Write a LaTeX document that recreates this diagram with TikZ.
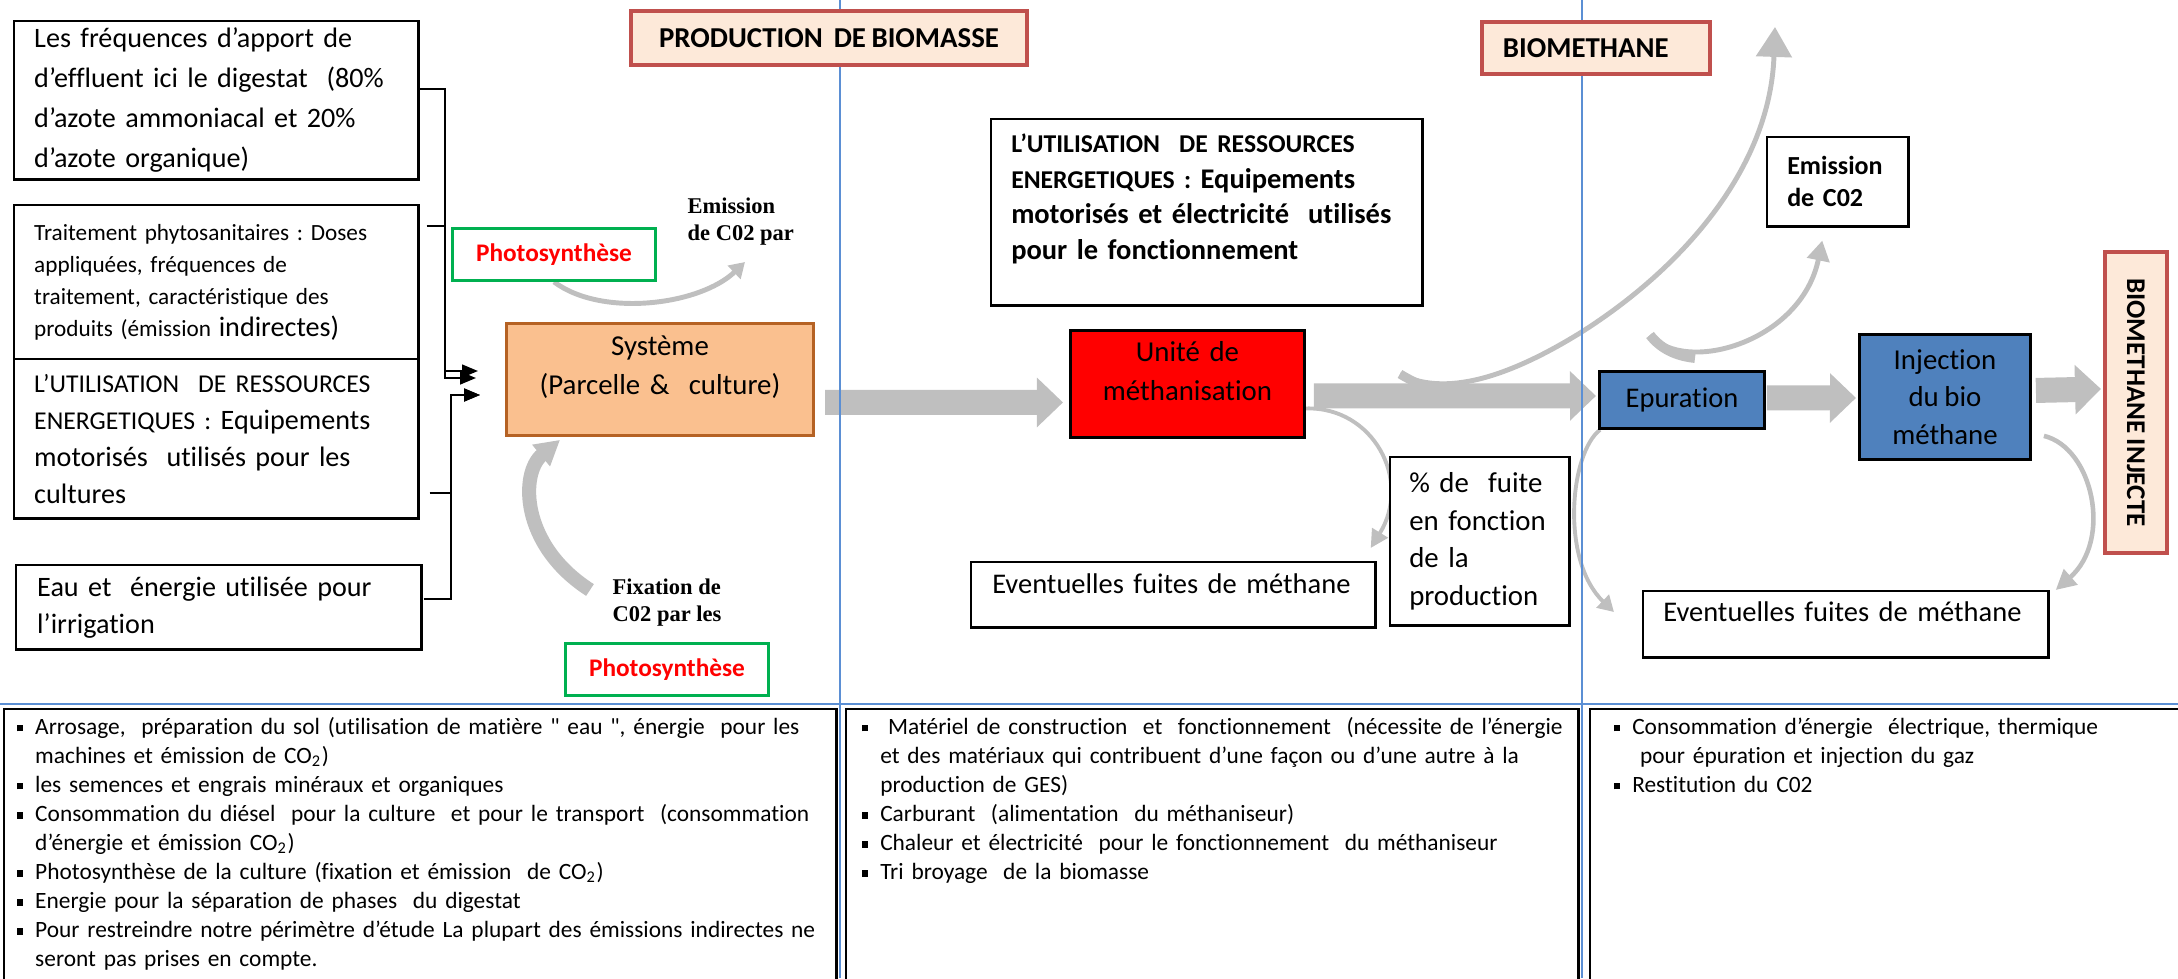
\documentclass[tikz,border=0pt]{standalone}
\usepackage{fontspec}
\setmainfont{Carlito}[Ligatures=NoCommon, WordSpace=0.85]
\newfontfamily\notefont{Liberation Serif}
\usetikzlibrary{arrows.meta,backgrounds}

\definecolor{sysfill}{RGB}{250,192,143}
\definecolor{sysline}{RGB}{181,98,36}
\definecolor{unitred}{RGB}{255,0,0}
\definecolor{procblue}{RGB}{79,129,189}
\definecolor{titlefill}{RGB}{253,233,217}
\definecolor{titleline}{RGB}{192,80,77}
\definecolor{photogreen}{RGB}{0,176,80}
\definecolor{photored}{RGB}{255,0,0}
\definecolor{gridblue}{RGB}{91,143,212}
\definecolor{arrowgray}{RGB}{191,191,191}

\hyphenpenalty=10000
\exhyphenpenalty=10000
\frenchspacing

% square bullet, indent of the next lines, smaller capitals
\newcommand{\sqb}{\makebox[0.18cm][l]{\rule[0.25ex]{0.55ex}{0.55ex}}}
\newcommand{\cont}{\hspace*{0.18cm}}
\newcommand{\caps}[1]{{\fontsize{7.3}{10}\selectfont #1}}

\tikzset{
  box/.style={draw, line width=0.7pt, anchor=north west, inner sep=0pt, fill=white},
  banner/.style={box, draw=titleline, fill=titlefill, line width=1.1pt,
    font=\fontsize{8.2}{10}\selectfont\bfseries},
  proc/.style={box, line width=0.8pt, fill=procblue, align=center},
  photo/.style={box, draw=photogreen, line width=0.8pt, text=photored,
    minimum width=2.03cm, minimum height=0.52cm,
    font=\fontsize{7.2}{9}\selectfont\bfseries},
  note/.style={anchor=north west, inner sep=0pt, align=left,
    font=\notefont\fontsize{6.4}{7.8}\selectfont\bfseries},
  itembox/.style={box, align=left, font=\fontsize{6.65}{8.25}\selectfont,
    text height=0.25cm, text depth=2.52cm},
  grid/.style={gridblue, line width=0.55pt},
  feed/.style={line width=0.6pt, -{Triangle[length=4.5pt,width=3.6pt]}},
  flow/.style={draw=arrowgray, line width=0.25cm,
    -{Triangle[length=0.26cm,width=0.48cm]}},
  swoop/.style n args={3}{draw=arrowgray, line width=#1,
    -{Triangle[length=#2,width=#3]}}
}

\begin{document}
\begin{tikzpicture}[x=0.01cm, y=-0.01cm, font=\fontsize{8.1}{10.7}\selectfont]

  \useasboundingbox (0,0) rectangle (2178,978);
  \clip (0,0) rectangle (2178,978);

  %% Inputs of the crop

  % Digestat
  \node[box, minimum width=4.04cm, minimum height=1.58cm, text width=3.64cm,
    align=left, font=\fontsize{8}{11.4}\selectfont] (freq) at (13,20)
    {Les fréquences d’apport de\\d’effluent ici le digestat~ (80\%\\d’azote ammoniacal et 20\%\\d’azote organique)};

  % Phytosanitary treatments
  \node[box, minimum width=4.04cm, minimum height=1.54cm, text width=3.64cm,
    align=left, font=\fontsize{6.6}{9.1}\selectfont] (phyto) at (13,204)
    {Traitement phytosanitaires : Doses\\appliquées, fréquences de\\traitement, caractéristique des\\produits (émission {\fontsize{8}{9.1}\selectfont indirectes)}};

  % Energy for the crop
  \node[box, minimum width=4.04cm, minimum height=1.59cm, text width=3.64cm,
    align=left, font=\fontsize{8}{10.5}\selectfont] (util1) at (13,358)
    {\caps{L’UTILISATION~ DE RESSOURCES}\\\caps{ENERGETIQUES :} Equipements\\motorisés~ utilisés pour les\\cultures};

  % Irrigation
  \node[box, minimum width=4.05cm, minimum height=0.84cm, text width=3.63cm,
    align=left, font=\fontsize{8}{10.5}\selectfont] (eau) at (15,564)
    {Eau et~ énergie utilisée pour\\l’irrigation};

  % Feed lines into the system
  \coordinate (busA) at (445,371);
  \coordinate (inA) at (478,371);
  \coordinate (busA2) at (445,378);
  \coordinate (inA2) at (476,378);
  \coordinate (busB) at (451,395);
  \coordinate (inB) at (480,395);
  \draw[feed] ([yshift=0.11cm]freq.east) -| (busA) -- (inA);
  \draw[feed] ([shift={(0.07cm,0.56cm)}]phyto.east) -| (busA2) -- (inA2);
  \draw[feed] ([shift={(0.1cm,-0.545cm)}]util1.east) -| (busB) -- (inB);
  \draw[feed] ([shift={(0.01cm,0.08cm)}]eau.east) -| (busB) -- (inB);

  %% Titles
  \node[banner, minimum width=3.96cm, minimum height=0.54cm] (prod) at (629,9)
    {PRODUCTION~ DE BIOMASSE};
  \node[banner, minimum width=2.28cm, minimum height=0.52cm, text width=1.86cm,
    align=left] (biom) at (1480,20) {BIOMETHANE};
  \node[banner, anchor=center, rotate=-90, minimum width=3.01cm,
    minimum height=0.62cm, font=\fontsize{7.7}{9}\selectfont\bfseries] (bminj)
    at (2136,402.5) {BIOMETHANE INJECTE};

  %% Crop system
  \node[box, draw=sysline, fill=sysfill, line width=0.8pt, minimum width=3.07cm,
    text width=3.07cm, align=center, text height=0.32cm, text depth=0.80cm,
    font=\fontsize{8.2}{11.1}\selectfont] (sys) at (505,322)
    {Système\\(Parcelle \&~ culture)};

  % Photosynthesis
  \node[photo] (ph1) at (451,227) {Photosynthèse};
  \node[photo] (ph2) at (564,642) {Photosynthèse};
  \node[note] (emi1) at (687,197) {Emission\\de C02 par};
  \node[note] (fix) at (612,578) {Fixation de\\C02 par les};

  %% Methanisation
  \node[box, minimum width=4.31cm, text width=3.91cm, align=left,
    text height=0.33cm, text depth=1.53cm,
    font=\fontsize{8.1}{10.2}\selectfont\bfseries] (util2) at (990,118)
    {\caps{L’UTILISATION~ DE RESSOURCES}\\\caps{ENERGETIQUES :} Equipements\\motorisés et électricité~ utilisés\\pour le fonctionnement};

  \node[box, fill=unitred, line width=0.8pt, minimum width=2.34cm,
    text width=2.34cm, align=center, text height=0.31cm, text depth=0.76cm,
    font=\fontsize{8.2}{11.1}\selectfont] (unit) at (1069,329)
    {Unité de\\méthanisation};

  \node[box, minimum width=4.04cm, text width=3.62cm, align=left,
    text height=0.31cm, text depth=0.34cm] (fuite1) at (970,561)
    {Eventuelles fuites de méthane};

  \node[box, minimum width=1.79cm, minimum height=1.68cm, text width=1.41cm,
    align=left, font=\fontsize{8.2}{10.7}\selectfont] (pct) at (1389,456)
    {\% de~ fuite\\en fonction\\de la\\production};

  %% Biomethane
  \node[proc, minimum width=1.65cm, minimum height=0.57cm] (epu) at (1598,370)
    {Epuration};
  \node[proc, minimum width=1.71cm, minimum height=1.25cm,
    font=\fontsize{8.2}{10.7}\selectfont] (inj) at (1858,333)
    {Injection\\du bio\\méthane};
  \node[box, minimum width=1.41cm, minimum height=0.89cm, text width=1.01cm,
    align=left, font=\fontsize{7.4}{9.1}\selectfont\bfseries] (emi2)
    at (1766,136) {Emission\\de C02};
  \node[box, minimum width=4.05cm, text width=3.65cm, align=left,
    text height=0.30cm, text depth=0.36cm] (fuite2) at (1642,590)
    {Eventuelles fuites de méthane};

  %% Lists under the diagram
  \node[itembox, minimum width=8.32cm, text width=8.06cm] (botL) at (3,708)
    {\sqb Arrosage,~ préparation du sol (utilisation de matière \textquotedbl{} eau \textquotedbl, énergie~ pour les\\
     \cont machines et émission de CO\textsubscript{2})\\
     \sqb les semences et engrais minéraux et organiques\\
     \sqb Consommation du diésel~ pour la culture~ et pour le transport~ (consommation\\
     \cont d’énergie et émission CO\textsubscript{2})\\
     \sqb Photosynthèse de la culture (fixation et émission~ de CO\textsubscript{2})\\
     \sqb Energie pour la séparation de phases~ du digestat\\
     \sqb Pour restreindre notre périmètre d’étude La plupart des émissions indirectes ne\\
     \cont seront pas prises en compte.};
  \node[itembox, minimum width=7.32cm, text width=7.0cm] (botM) at (845,708)
    {\sqb\ Matériel de construction~ et~ fonctionnement~ (nécessite de l’énergie\\
     \cont et des matériaux qui contribuent d’une façon ou d’une autre à la\\
     \cont production de GES)\\
     \sqb Carburant~ (alimentation~ du méthaniseur)\\
     \sqb Chaleur et électricité~ pour le fonctionnement~ du méthaniseur\\
     \sqb Tri broyage~ de la biomasse};
  \node[itembox, minimum width=6.0cm, text width=5.52cm] (botR) at (1589,708)
    {\sqb Consommation d’énergie~ électrique, thermique\\
     \cont\ pour épuration et injection du gaz\\
     \sqb Restitution du C02};

  %% Gray arrows and table lines, behind the boxes
  \coordinate (co2up) at (745,262);
  \coordinate (hook1) at (1400,374);
  \coordinate (up1) at (1775,27);
  \coordinate (hook2) at (1650,335);

  \begin{pgfonlayer}{background}
    % Main flow
    \draw[flow] ([shift={(0.1cm,-0.23cm)}]sys.east) -- ([shift={(-0.06cm,-0.185cm)}]unit.west);
    \draw[flow] ([shift={(0.08cm,-0.12cm)}]unit.east) -- ([shift={(-0.02cm,0.04cm)}]epu.west);
    \draw[flow] ([shift={(0.01cm,0.02cm)}]epu.east) -- ([shift={(-0.02cm,-0.01cm)}]inj.west);
    \draw[flow] ([shift={(0.04cm,0.065cm)}]inj.east) -- ([shift={(-0.02cm,0.135cm)}]bminj.south);

    % CO2 of the crop
    \draw[swoop={1.4pt}{4.3pt}{5.1pt}] (ph1.south) .. controls +(48,36) and +(-45,43) .. (co2up);
    \draw[swoop={4pt}{7pt}{7.5pt}] ([shift={(-0.22cm,-0.12cm)}]fix.north west)
      .. controls +(-70,-45) and +(-40,33) .. ([shift={(0.55cm,-0.03cm)}]sys.south west);

    % Leaks and emissions
    \draw[swoop={1.4pt}{8.5pt}{10pt}] (hook1) .. controls (1450,400) and (1520,370) .. (1580,333)
      .. controls (1680,270) and (1770,170) .. (up1);
    \draw[arrowgray, line width=2.6pt] (hook1) .. controls (1415,383) and (1430,390) .. (1450,392);
    \draw[swoop={1.4pt}{5.7pt}{6.3pt}] (hook2) .. controls +(35,40) and +(-21,102)
      .. ([shift={(-0.155cm,-0.13cm)}]emi2.south);
    \draw[arrowgray, line width=2.8pt] (hook2) .. controls (1660,348) and (1675,356) .. (1695,358);
    \draw[swoop={1.1pt}{5.1pt}{5.1pt}] ([yshift=-0.245cm]unit.east) .. controls +(67,-2) and +(42,-68)
      .. ([shift={(-0.06cm,0.13cm)}]fuite1.north east);
    \draw[swoop={1.1pt}{4.5pt}{5pt}] ([xshift=0.02cm]epu.south west) .. controls +(-30,23) and +(-54,-52)
      .. ([shift={(-0.28cm,-0.22cm)}]fuite2.north west);
    \draw[swoop={1.3pt}{5.7pt}{5.7pt}] ([shift={(0.12cm,0.25cm)}]inj.south east) .. controls +(49,12) and +(57,-50)
      .. ([xshift=0.06cm]fuite2.north east);

    % Table lines
    \draw[grid] (840,0) -- (840,978);
    \draw[grid] (1582,0) -- (1582,978);
    \draw[grid] (0,704) -- (2178,704);
  \end{pgfonlayer}

\end{tikzpicture}
\end{document}
